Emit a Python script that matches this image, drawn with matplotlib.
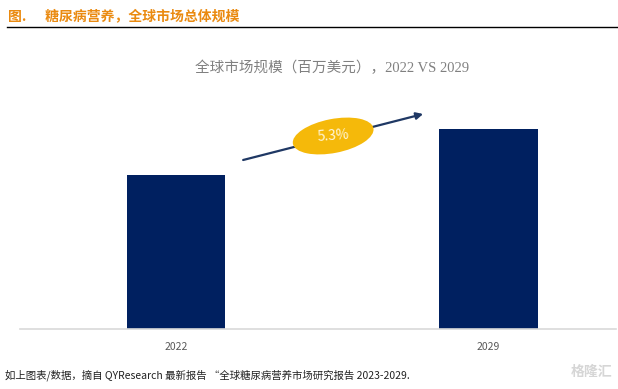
import matplotlib
matplotlib.use("Agg")
import matplotlib.pyplot as plt
from matplotlib.patches import Ellipse
from matplotlib.transforms import ScaledTranslation

plt.rcParams['font.family'] = ['Noto Sans CJK SC', 'DejaVu Sans']

# data (bar heights, arbitrary units)
years = ['2022', '2029']
market_size = [154, 200]
cagr_label = '5.3%'

header = '图.      糖尿病营养，全球市场总体规模'
chart_title = '全球市场规模（百万美元），2022 VS 2029'
footnote = '如上图表/数据，摘自 QYResearch 最新报告 “全球糖尿病营养市场研究报告 2023-2029.'

navy = '#002060'
gold = '#F5B90A'

fig = plt.figure(figsize=(6.18, 3.89), dpi=100)
ax = fig.add_axes([20 / 618, 1 - 329 / 389, 596 / 618, 239 / 389])

x = range(len(years))
ax.bar(x, market_size, width=0.314, color=navy, zorder=2)
ax.set_xlim(-0.499, 1.408)
ax.set_ylim(0, 239)
ax.set_xticks(list(x))
ax.set_xticklabels(years, color='#595959', fontsize=7.5)
ax.tick_params(axis='x', length=0, pad=9)
ax.set_yticks([])
for side in ['top', 'right', 'left']:
    ax.spines[side].set_visible(False)
ax.spines['bottom'].set_color('#D9D9D9')
ax.spines['bottom'].set_linewidth(1.2)

# growth arrow and CAGR bubble
ax.annotate('', xy=(0.791, 215), xytext=(0.215, 169),
            arrowprops=dict(arrowstyle='-|>', color='#1F3864', lw=1.6,
                            mutation_scale=10, shrinkA=0, shrinkB=0), zorder=3)
tr = fig.dpi_scale_trans + ScaledTranslation(0.503, 193, ax.transData)
ax.add_patch(Ellipse((0, 0), 0.82, 0.34, angle=11, transform=tr,
                     facecolor=gold, edgecolor='none', zorder=4))
ax.text(0.503, 193, cagr_label, ha='center', va='center', color='#FFF6D8',
        fontsize=10, rotation=4, zorder=5)

# header and rule
fig.text(8 / 618, 1 - 16 / 389, header, color='#EA8A10', fontsize=10,
         fontweight='bold', va='center', ha='left')
fig.add_artist(plt.Line2D([7 / 618, 1.0], [1 - 27 / 389] * 2,
                          color='black', lw=1.0))

fig.text(332 / 618, 1 - 68 / 389, chart_title, color='#808080', fontsize=10.5,
         ha='center', va='center',
         family=['Liberation Serif', 'Noto Sans CJK SC'])

fig.text(5 / 618, 1 - 375 / 389, footnote, color='#222222', fontsize=7.5,
         style='italic', ha='left', va='center')
fig.text(612 / 618, 1 - 372 / 389, '格隆汇', color='#D6D6D6', fontsize=10,
         ha='right', va='center', fontweight='bold')

fig.savefig('out.png', dpi=100, facecolor='white')
